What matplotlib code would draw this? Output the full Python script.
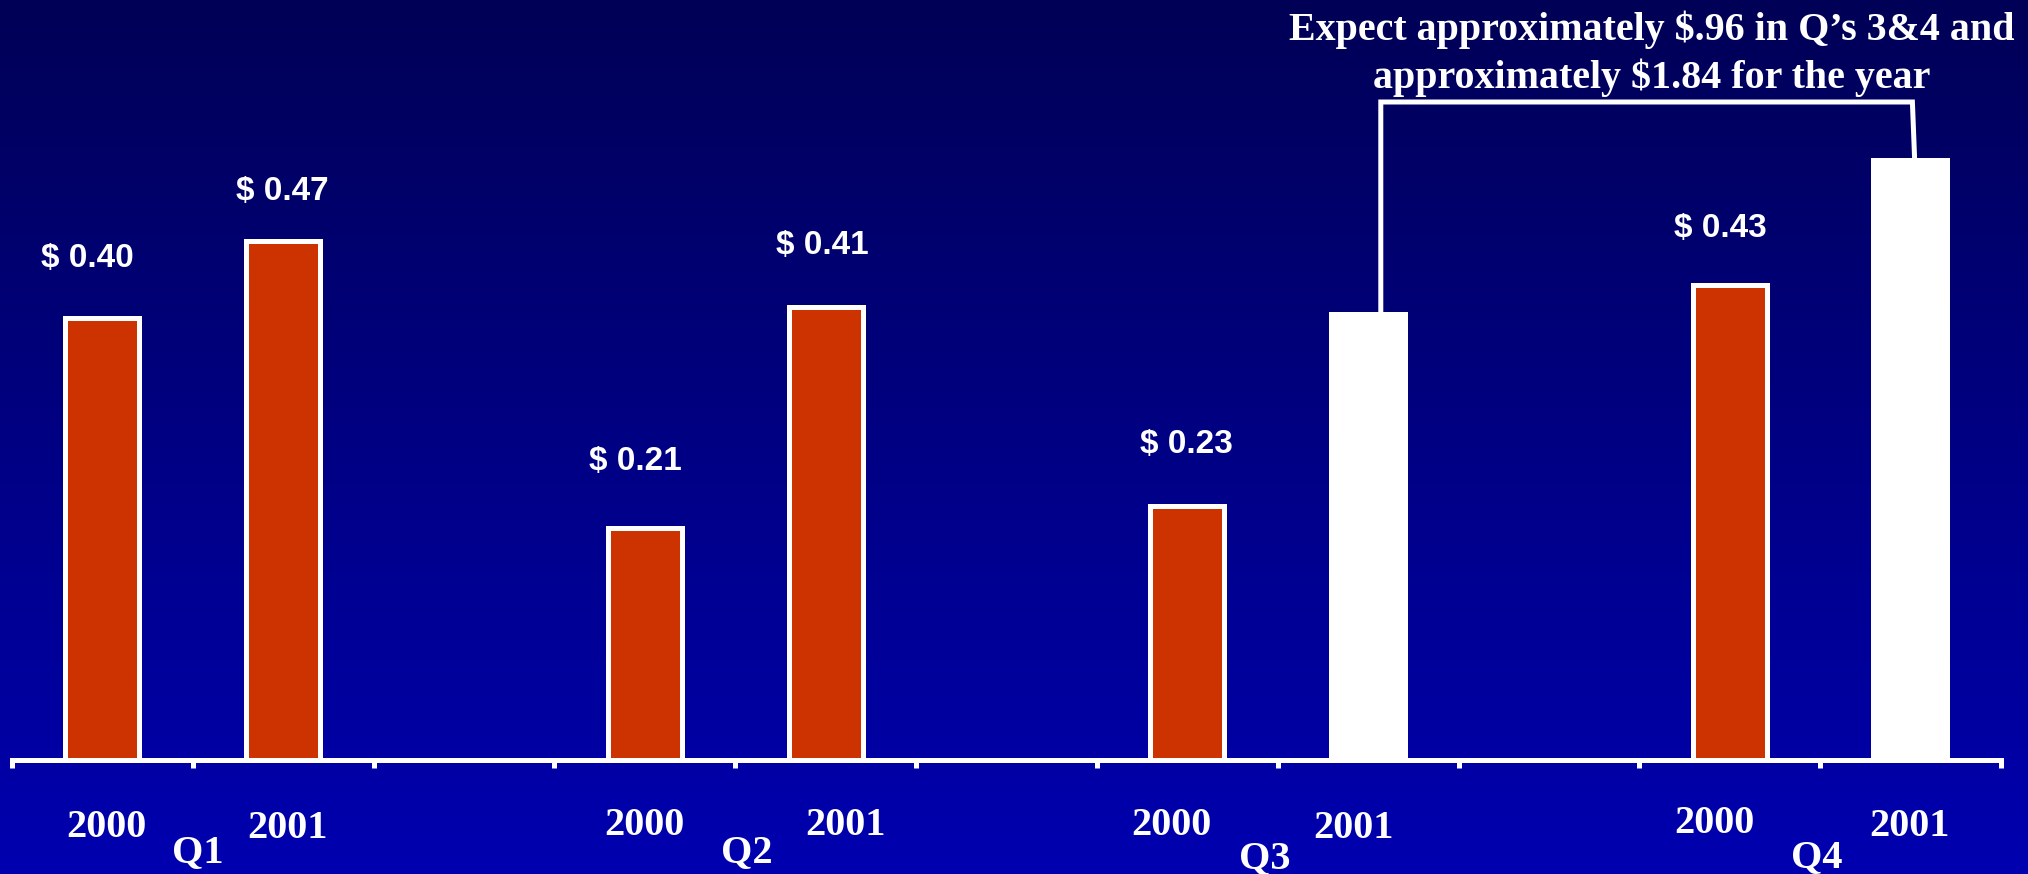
import numpy as np
import matplotlib
matplotlib.use("Agg")
import matplotlib.pyplot as plt
import matplotlib.transforms as mtransforms

# ---------------- data ----------------
quarters = ["Q1", "Q2", "Q3", "Q4"]
years = ["2000", "2001"]
eps_2000 = [0.40, 0.21, 0.23, 0.43]
eps_2001 = [0.47, 0.41, 0.405, 0.545]
projected_2001 = [False, False, True, True]
annotation = ["Expect approximately $.96 in Q\u2019s 3&4 and",
              "approximately $1.84 for the year"]

# ---------------- layout (pixels at dpi=100) ----------------
W, H = 2028, 874
DPI = 100
RED = "#CC3300"
WHITE = "white"
PX = 72.0 / DPI  # points per pixel

# value-label offsets (dx px, dy px above bar top) per bar: 2000 bars, 2001 bars
val_off_2000 = [(-15, 59), (-9, 66), (-1, 61), (-9, 56)]
val_off_2001 = [(-1, 49), (-3, 61), None, None]
# year label offsets: (dx px, baseline y px from top)
yr_off_2000 = [(4, 837), (0, 835), (-16, 835), (-15, 833)]
yr_off_2001 = [(4, 838), (20, 835), (-15, 838), (-1, 836)]
# quarter label offsets relative to boundary between the pair
q_off = [(5, 862), (12, 862), (-13, 868), (-3, 867)]

fig = plt.figure(figsize=(W / DPI, H / DPI), dpi=DPI)

# background gradient
bg = fig.add_axes([0, 0, 1, 1], zorder=-10)
top_c = np.array([0x00, 0x00, 0x56]) / 255.0
bot_c = np.array([0x00, 0x00, 0xB0]) / 255.0
t = np.linspace(0, 1, 512)[:, None]
grad = top_c[None, :] * (1 - t) + bot_c[None, :] * t
bg.imshow(grad[:, None, :], aspect="auto", extent=[0, 1, 0, 1])
bg.set_axis_off()

# main axes
ax_left, ax_right, ax_base = 12, 2001, 760
ax = fig.add_axes([ax_left / W, (H - ax_base) / H, (ax_right - ax_left) / W, ax_base / H])
ax.set_facecolor("none")
px_per_dollar = 1105.0
ax.set_xlim(-0.5, 10.5)
ax.set_ylim(0, ax_base / px_per_dollar)

pos_2000 = [3 * i for i in range(len(quarters))]
pos_2001 = [3 * i + 1 for i in range(len(quarters))]
bw = 0.41
lw_edge = 5 * PX

ax.bar(pos_2000, eps_2000, width=bw, color=RED, edgecolor=WHITE, linewidth=lw_edge, zorder=3)
for i in range(len(quarters)):
    if projected_2001[i]:
        ax.bar(pos_2001[i], eps_2001[i], width=bw + 5 / 180.8, color=WHITE,
               linewidth=0, zorder=3)
    else:
        ax.bar(pos_2001[i], eps_2001[i], width=bw, color=RED, edgecolor=WHITE,
               linewidth=lw_edge, zorder=3)

# spines / ticks
for s in ["top", "right", "left"]:
    ax.spines[s].set_visible(False)
ax.spines["bottom"].set_color(WHITE)
ax.spines["bottom"].set_linewidth(5 * PX)
ax.spines["bottom"].set_zorder(4)
ax.set_yticks([])
ax.set_xticks(np.arange(-0.5, 11, 1.0))
ax.set_xticklabels([])
ax.tick_params(axis="x", direction="out", length=8 * PX, width=5 * PX, color=WHITE)

val_font = dict(family="Liberation Sans", weight="bold", size=24, color=WHITE)
ser_font = dict(family="Liberation Serif", weight="bold", size=29, color=WHITE)

def add_val(x, v, off):
    if off is None:
        return
    dx, dy = off
    tr = ax.transData + mtransforms.ScaledTranslation(dx / DPI, dy / DPI, fig.dpi_scale_trans)
    ax.text(x, v, f"$ {v:.2f}", transform=tr, ha="center", va="center", **val_font)

for i in range(len(quarters)):
    add_val(pos_2000[i], eps_2000[i], val_off_2000[i])
    if not projected_2001[i]:
        add_val(pos_2001[i], eps_2001[i], val_off_2001[i])

# category labels (years + quarters) below the axis
blend = mtransforms.blended_transform_factory(ax.transData, fig.transFigure)
def add_lab(x, dxpx, ybase, s):
    tr = blend + mtransforms.ScaledTranslation(dxpx / DPI, 0, fig.dpi_scale_trans)
    ax.text(x, (H - ybase) / H, s, transform=tr, ha="center", va="baseline",
            clip_on=False, **ser_font)

for i, q in enumerate(quarters):
    add_lab(pos_2000[i], yr_off_2000[i][0], yr_off_2000[i][1], years[0])
    add_lab(pos_2001[i], yr_off_2001[i][0], yr_off_2001[i][1], years[1])
    add_lab(pos_2000[i] + 0.5, q_off[i][0], q_off[i][1], q)

# bracket annotation connecting projected bars
bracket_top = (ax_base - 102) / px_per_dollar
proj_idx = [i for i, p in enumerate(projected_2001) if p]
xl = pos_2001[proj_idx[0]] + 0.07
xr = pos_2001[proj_idx[-1]] + 0.01
ax.plot([xl, xl, xr, xr + 0.012],
        [eps_2001[proj_idx[0]], bracket_top, bracket_top, eps_2001[proj_idx[-1]]],
        color=WHITE, lw=5 * PX, solid_joinstyle="miter", zorder=2, clip_on=False)

ann_font = dict(family="Liberation Serif", weight="bold", size=28.8, color=WHITE)
fig.text(1652 / W, (H - 40) / H, annotation[0], ha="center", va="baseline", **ann_font)
fig.text(1652 / W, (H - 88) / H, annotation[1], ha="center", va="baseline", **ann_font)

fig.savefig("out.png", dpi=DPI)
